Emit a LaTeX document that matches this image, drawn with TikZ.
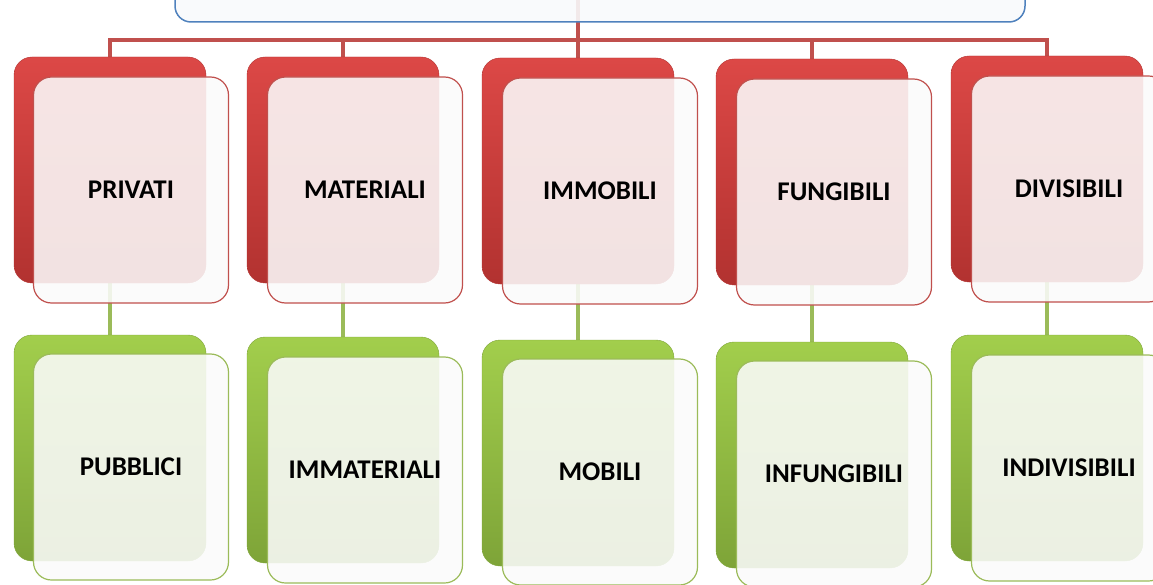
\documentclass[tikz,border=0pt]{standalone}
\usepackage{fontspec}
\setmainfont{Carlito}
\usepackage{tikz}
\usetikzlibrary{backgrounds}
\usetikzlibrary{positioning}

\definecolor{accRed}{RGB}{192,80,77}
\definecolor{redTop}{RGB}{220,72,70}
\definecolor{redBot}{RGB}{178,50,48}
\definecolor{accGreen}{RGB}{155,187,89}
\definecolor{greenTop}{RGB}{162,206,76}
\definecolor{greenBot}{RGB}{126,164,56}
\definecolor{accBlue}{RGB}{79,129,189}

\begin{document}
\begin{tikzpicture}[
      x=1pt, y=-1pt,
      backbox/.style={rectangle, rounded corners=18pt, minimum width=192pt, minimum height=226pt},
      backred/.style={backbox, top color=redTop, bottom color=redBot, draw=redBot},
      backgreen/.style={backbox, top color=greenTop, bottom color=greenBot, draw=greenBot},
      frontbox/.style={rectangle, rounded corners=18pt, minimum width=195pt, minimum height=226pt,
        fill=white!97!gray, fill opacity=0.88, text opacity=1, line width=1.2pt,
        font=\bfseries\fontsize{27}{31}\selectfont},
      frontred/.style={frontbox, draw=accRed},
      frontgreen/.style={frontbox, draw=accGreen},
      redline/.style={draw=accRed, line width=3.5pt},
      greenline/.style={draw=accGreen, line width=3.5pt},
    ]
        \useasboundingbox (0,0) rectangle (1153,585);

        % top box (cut off by the page)
        \node[rectangle, rounded corners=16pt, minimum width=850pt, minimum height=124pt,
              fill=white!96!accBlue, fill opacity=0.9, draw=accBlue, line width=1.5pt]
              (top) at (600,-40) {};

        % red row
        \node[backred]  (r1) at (110,170) {};
        \node[frontred] (p1) at (131,190) {PRIVATI};
        \node[backred]  (r2) at (343,170) {};
        \node[frontred] (p2) at (365,190) {MATERIALI};
        \node[backred]  (r3) at (578,171) {};
        \node[frontred] (p3) at (600,191) {IMMOBILI};
        \node[backred]  (r4) at (812,172) {};
        \node[frontred] (p4) at (834,192) {FUNGIBILI};
        \node[backred]  (r5) at (1047,169) {};
        \node[frontred] (p5) at (1069,189) {DIVISIBILI};

        % green row
        \node[backgreen]  (g1) at (110,448) {};
        \node[frontgreen] (q1) at (131,467) {PUBBLICI};
        \node[backgreen]  (g2) at (343,450) {};
        \node[frontgreen] (q2) at (365,470) {IMMATERIALI};
        \node[backgreen]  (g3) at (578,453) {};
        \node[frontgreen] (q3) at (600,472) {MOBILI};
        \node[backgreen]  (g4) at (812,455) {};
        \node[frontgreen] (q4) at (834,474) {INFUNGIBILI};
        \node[backgreen]  (g5) at (1047,448) {};
        \node[frontgreen] (q5) at (1069,468) {INDIVISIBILI};

        \coordinate (bar) at (0,40);

        \begin{scope}[on background layer]
            \draw[redline] (r3.north |- top.center) -- (r3.north);
            \draw[redline] (r1.north) -- (r1.north |- bar) -- (r5.north |- bar) -- (r5.north);
            \draw[redline] (r2.north |- bar) -- (r2.north);
            \draw[redline] (r4.north |- bar) -- (r4.north);
            \draw[greenline] (r1.south) -- (g1.north);
            \draw[greenline] (r2.south) -- (g2.north);
            \draw[greenline] (r3.south) -- (g3.north);
            \draw[greenline] (r4.south) -- (g4.north);
            \draw[greenline] (r5.south) -- (g5.north);
        \end{scope}
    \end{tikzpicture}
\end{document}
